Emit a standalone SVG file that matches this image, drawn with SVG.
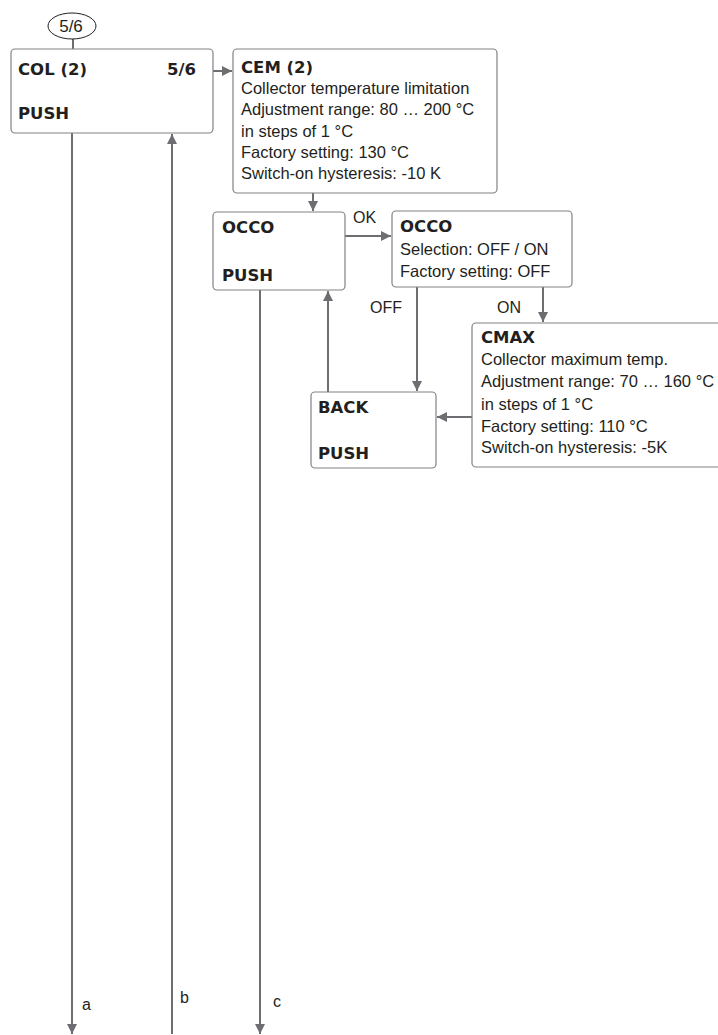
<svg xmlns="http://www.w3.org/2000/svg" width="718" height="1035" viewBox="0 0 718 1035">
<style>
.box{fill:#fff;stroke:#808285;stroke-width:1.2}
.ln{fill:none;stroke:#6d6e71;stroke-width:2}
text{font-family:"Liberation Sans",Arial,sans-serif;font-size:16.5px;fill:#231f20}
.b{font-family:"DejaVu Sans","Liberation Sans",sans-serif;font-weight:bold;font-size:16.5px}
.lbl{font-size:16px}
</style>
<defs>
<marker id="ah" viewBox="0 0 10 10" refX="10" refY="5" markerWidth="10" markerHeight="10" markerUnits="userSpaceOnUse" orient="auto">
<path d="M0,0 L10,5 L0,10 Z" fill="#6d6e71"/>
</marker>
</defs>
<g id="connectors">
<line class="ln" x1="73" y1="39" x2="73" y2="49"/>
<line class="ln" x1="213" y1="71" x2="232" y2="71" marker-end="url(#ah)"/>
<line class="ln" x1="313" y1="193" x2="313" y2="211" marker-end="url(#ah)"/>
<line class="ln" x1="345" y1="236" x2="391" y2="236" marker-end="url(#ah)"/>
<line class="ln" x1="417" y1="287" x2="417" y2="391" marker-end="url(#ah)"/>
<line class="ln" x1="543" y1="287" x2="543" y2="322" marker-end="url(#ah)"/>
<line class="ln" x1="472" y1="417" x2="437" y2="417" marker-end="url(#ah)"/>
<line class="ln" x1="328" y1="392" x2="328" y2="291" marker-end="url(#ah)"/>
<line class="ln" x1="72" y1="133" x2="72" y2="1034" marker-end="url(#ah)"/>
<line class="ln" x1="172" y1="1034" x2="172" y2="134" marker-end="url(#ah)"/>
<line class="ln" x1="260" y1="290" x2="260" y2="1034" marker-end="url(#ah)"/>
<text class="lbl" x="353" y="223">OK</text>
<text class="lbl" x="370" y="313">OFF</text>
<text class="lbl" x="497" y="313">ON</text>
<text class="lbl" x="82" y="1010">a</text>
<text class="lbl" x="180" y="1003">b</text>
<text class="lbl" x="273" y="1007">c</text>
</g>
<g id="oval">
<ellipse cx="72" cy="26" rx="24" ry="13" fill="#fff" stroke="#231f20" stroke-width="1"/>
<text x="71" y="32" text-anchor="middle" style="font-size:17px">5/6</text>
</g>
<g id="col">
<rect class="box" x="11" y="49" width="202" height="84" rx="4"/>
<text class="b" x="18" y="75">COL (2)</text>
<text class="b" x="196" y="75" text-anchor="end">5/6</text>
<text class="b" x="18" y="119">PUSH</text>
</g>
<g id="cem">
<rect class="box" x="233" y="49" width="264" height="144" rx="4"/>
<text class="b" x="241" y="73">CEM (2)</text>
<text x="241" y="94">Collector temperature limitation</text>
<text x="241" y="115">Adjustment range: 80 … 200 °C</text>
<text x="241" y="137">in steps of 1 °C</text>
<text x="241" y="158">Factory setting: 130 °C</text>
<text x="241" y="179">Switch-on hysteresis: -10 K</text>
</g>
<g id="occo1">
<rect class="box" x="213" y="212" width="132" height="78" rx="4"/>
<text class="b" x="222" y="233">OCCO</text>
<text class="b" x="222" y="281">PUSH</text>
</g>
<g id="occo2">
<rect class="box" x="392" y="211" width="180" height="76" rx="4"/>
<text class="b" x="400" y="232">OCCO</text>
<text x="400" y="255">Selection: OFF / ON</text>
<text x="400" y="277">Factory setting: OFF</text>
</g>
<g id="back">
<rect class="box" x="311" y="392" width="125" height="76" rx="4"/>
<text class="b" x="318" y="413">BACK</text>
<text class="b" x="318" y="459">PUSH</text>
</g>
<g id="cmax">
<rect class="box" x="472" y="323" width="260" height="144" rx="4"/>
<text class="b" x="481" y="343">CMAX</text>
<text x="481" y="365">Collector maximum temp.</text>
<text x="481" y="387">Adjustment range: 70 … 160 °C</text>
<text x="481" y="410">in steps of 1 °C</text>
<text x="481" y="432">Factory setting: 110 °C</text>
<text x="481" y="453">Switch-on hysteresis: -5K</text>
</g>
</svg>
